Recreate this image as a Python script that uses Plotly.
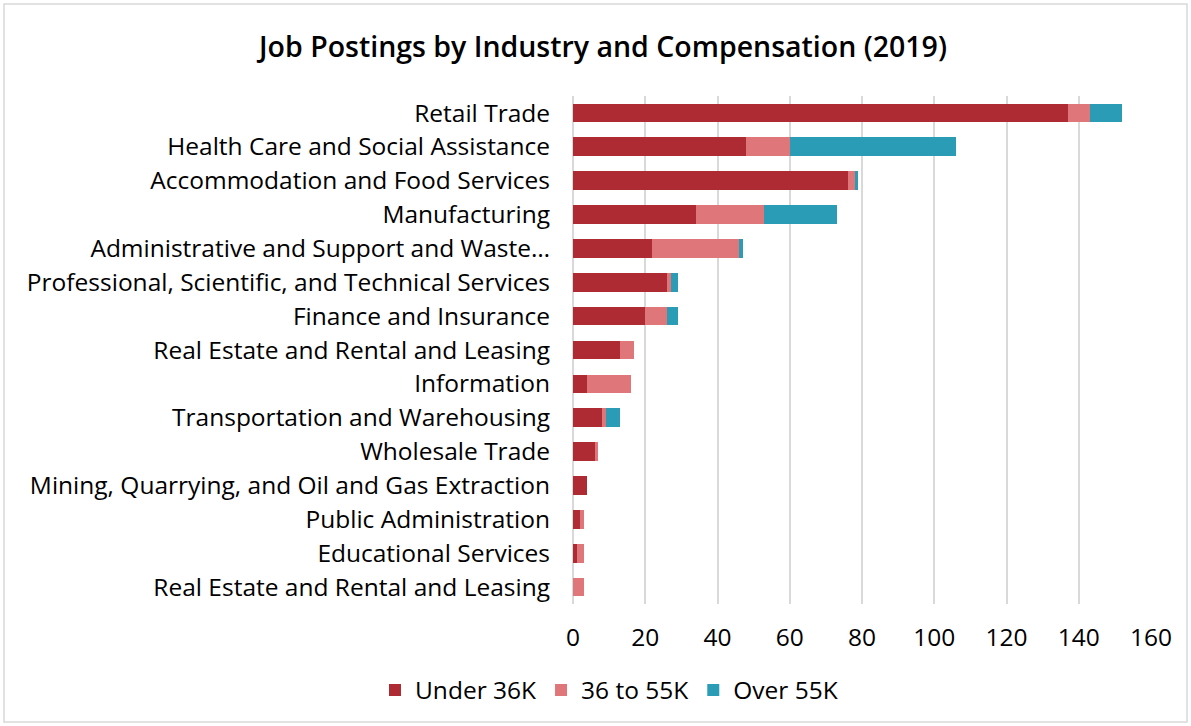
import plotly.graph_objects as go

industries = [
    "Retail Trade",
    "Health Care and Social Assistance",
    "Accommodation and Food Services",
    "Manufacturing",
    "Administrative and Support and Waste…",
    "Professional, Scientific, and Technical Services",
    "Finance and Insurance",
    "Real Estate and Rental and Leasing",
    "Information",
    "Transportation and Warehousing",
    "Wholesale Trade",
    "Mining, Quarrying, and Oil and Gas Extraction",
    "Public Administration",
    "Educational Services",
    "Real Estate and Rental and Leasing",
]
under_36k = [137, 48, 76, 34, 22, 26, 20, 13, 4, 8, 6, 4, 2, 1, 0]
mid_36_55k = [6, 12, 2, 19, 24, 1, 6, 4, 12, 1, 1, 0, 1, 2, 3]
over_55k = [9, 46, 1, 20, 1, 2, 3, 0, 0, 4, 0, 0, 0, 0, 0]

series = [
    ("Under 36K", under_36k, "#ae2b33"),
    ("36 to 55K", mid_36_55k, "#df7679"),
    ("Over 55K", over_55k, "#2b9cb5"),
]

# numeric row positions so repeated industry names stay separate rows
rows = list(range(len(industries)))

W, H = 1191, 726
ML, MR, MT, MB = 573, 40, 96, 122

fig = go.Figure()
for name, vals, color in series:
    fig.add_trace(go.Bar(
        y=rows, x=vals, name=name, orientation="h",
        marker=dict(color=color, line=dict(width=0)),
    ))

font_family = "Open Sans, Roboto, Liberation Sans, Arial, sans-serif"
fs = 24.5

fig.update_layout(
    width=W, height=H,
    barmode="stack", bargap=0.45,
    margin=dict(l=ML, r=MR, t=MT, b=MB),
    paper_bgcolor="white", plot_bgcolor="white",
    font=dict(family=font_family, size=fs, color="#000000"),
    title=dict(
        text="Job Postings by Industry and Compensation (2019)",
        x=603 / W, xref="container", xanchor="center", y=1 - 47 / H, yanchor="middle",
        font=dict(size=28.5, family=font_family, color="#000000", weight=600),
    ),
    xaxis=dict(
        range=[0, 160], dtick=20, tick0=0,
        showgrid=True, gridcolor="#d9d9d9", gridwidth=2,
        zeroline=True, zerolinecolor="#d9d9d9", zerolinewidth=2,
        showline=False, ticks="", ticklabelstandoff=16,
        tickfont=dict(size=fs),
    ),
    yaxis=dict(
        tickmode="array", tickvals=rows, ticktext=industries,
        autorange="reversed",
        showgrid=False, zeroline=False, showline=False, ticks="",
        ticklabelstandoff=22, tickfont=dict(size=fs),
    ),
    legend=dict(
        orientation="h", x=609 / W, xref="container", xanchor="center",
        y=36 / H, yref="container", yanchor="middle",
        font=dict(size=fs), itemwidth=30, traceorder="normal",
    ),
    shapes=[dict(
        type="rect", xref="paper", yref="paper",
        x0=(4 - ML) / (W - ML - MR), x1=(W - 4 - ML) / (W - ML - MR),
        y0=-(MB - 4) / (H - MT - MB), y1=1 + (MT - 4) / (H - MT - MB),
        line=dict(color="#d9d9d9", width=1.5), layer="below",
    )],
)

fig.write_html("out.html")
